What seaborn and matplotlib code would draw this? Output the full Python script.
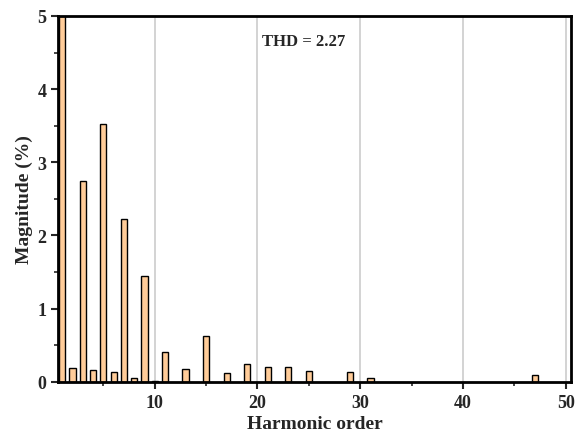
import numpy as np
import pandas as pd
import matplotlib
matplotlib.use("Agg")
import matplotlib.pyplot as plt
import seaborn as sns
from matplotlib.ticker import MultipleLocator

# harmonic orders and magnitudes (% of fundamental)
orders = [1, 2, 3, 4, 5, 6, 7, 8, 9, 10, 11, 13, 15, 17, 19, 21, 23, 25, 29, 31, 47]
magnitudes = [100.0, 0.19, 2.74, 0.16, 3.53, 0.13, 2.22, 0.05, 1.44, 0.01,
              0.41, 0.17, 0.62, 0.12, 0.24, 0.20, 0.20, 0.15, 0.13, 0.05, 0.09]
thd_text = "THD = 2.27"

df = pd.DataFrame({"order": orders, "magnitude": magnitudes})

sns.set_style("ticks")
plt.rcParams["font.family"] = ["Liberation Serif", "DejaVu Serif"]
plt.rcParams["font.weight"] = "bold"

fig = plt.figure(figsize=(5.76, 4.35), dpi=100)
ax = fig.add_axes([0.101, 0.120, 0.890, 0.841])

# vertical grid lines at major ticks
ax.xaxis.grid(True, color="#cccccc", linewidth=1.2, zorder=0)
ax.set_axisbelow(True)

sns.barplot(
    data=df,
    x="order",
    y="magnitude",
    native_scale=True,
    width=0.6,
    color="#FFCC99",
    saturation=1,
    edgecolor="black",
    linewidth=1.0,
    ax=ax,
    zorder=2
    )

ax.set_xlim(0.6, 50.5)
ax.set_ylim(0, 5)
ax.xaxis.set_major_locator(MultipleLocator(10))
ax.xaxis.set_minor_locator(MultipleLocator(5))
ax.yaxis.set_major_locator(MultipleLocator(1))
ax.yaxis.set_minor_locator(MultipleLocator(0.5))

ax.tick_params(which="major", length=5, width=1.5, labelsize=13, direction="out")
ax.tick_params(which="minor", length=3, width=1.2, direction="out")
ax.tick_params(axis="x", pad=4)
for lab in ax.get_xticklabels() + ax.get_yticklabels():
    lab.set_fontweight("bold")

for sp in ax.spines.values():
    sp.set_visible(True)
    sp.set_linewidth(2)
    sp.set_color("black")

ax.set_xlabel("Harmonic order", fontsize=14, fontweight="bold", labelpad=3)
ax.set_ylabel("Magnitude (%)", fontsize=14, fontweight="bold", labelpad=3)

ax.text(24.5, 4.66, thd_text, ha="center", va="center",
        fontsize=12, fontweight="bold")

plt.savefig("out.png", dpi=100)
